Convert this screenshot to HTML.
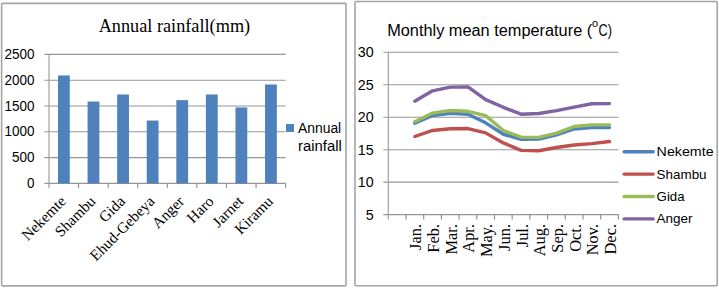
<!DOCTYPE html><html><head><meta charset="utf-8"><style>html,body{margin:0;padding:0;background:#fff;}body{width:719px;height:288px;overflow:hidden;}svg{display:block;}.s{font-family:"Liberation Sans",sans-serif;}.r{font-family:"Liberation Serif",serif;}</style></head><body>
<svg width="719" height="288" viewBox="0 0 719 288">
<rect x="1.6" y="3.4" width="344.4" height="282.5" fill="#fff" stroke="#a5a5a5" stroke-width="1.6" rx="1.2"/>
<text class="r" x="174.4" y="31.8" font-size="18.25" text-anchor="middle" fill="#000">Annual rainfall(mm)</text>
<line x1="44.4" y1="183.4" x2="285.64" y2="183.4" stroke="#969696" stroke-width="1.1"/>
<text class="s" x="34.4" y="188" font-size="14.4" text-anchor="end" textLength="7.5" lengthAdjust="spacingAndGlyphs" fill="#000">0</text>
<line x1="44.4" y1="157.6" x2="285.64" y2="157.6" stroke="#969696" stroke-width="1.1"/>
<text class="s" x="34.4" y="162.2" font-size="14.4" text-anchor="end" textLength="22.5" lengthAdjust="spacingAndGlyphs" fill="#000">500</text>
<line x1="44.4" y1="131.8" x2="285.64" y2="131.8" stroke="#969696" stroke-width="1.1"/>
<text class="s" x="34.4" y="136.4" font-size="14.4" text-anchor="end" textLength="30" lengthAdjust="spacingAndGlyphs" fill="#000">1000</text>
<line x1="44.4" y1="106" x2="285.64" y2="106" stroke="#969696" stroke-width="1.1"/>
<text class="s" x="34.4" y="110.6" font-size="14.4" text-anchor="end" textLength="30" lengthAdjust="spacingAndGlyphs" fill="#000">1500</text>
<line x1="44.4" y1="80.2" x2="285.64" y2="80.2" stroke="#969696" stroke-width="1.1"/>
<text class="s" x="34.4" y="84.8" font-size="14.4" text-anchor="end" textLength="30" lengthAdjust="spacingAndGlyphs" fill="#000">2000</text>
<line x1="44.4" y1="54.4" x2="285.64" y2="54.4" stroke="#969696" stroke-width="1.1"/>
<text class="s" x="34.4" y="59" font-size="14.4" text-anchor="end" textLength="30" lengthAdjust="spacingAndGlyphs" fill="#000">2500</text>
<line x1="49" y1="54.4" x2="49" y2="187.9" stroke="#a0a0a0" stroke-width="1.2"/>
<line x1="78.58" y1="183.4" x2="78.58" y2="187.9" stroke="#8c8c8c" stroke-width="1.1"/>
<line x1="108.16" y1="183.4" x2="108.16" y2="187.9" stroke="#8c8c8c" stroke-width="1.1"/>
<line x1="137.74" y1="183.4" x2="137.74" y2="187.9" stroke="#8c8c8c" stroke-width="1.1"/>
<line x1="167.32" y1="183.4" x2="167.32" y2="187.9" stroke="#8c8c8c" stroke-width="1.1"/>
<line x1="196.9" y1="183.4" x2="196.9" y2="187.9" stroke="#8c8c8c" stroke-width="1.1"/>
<line x1="226.48" y1="183.4" x2="226.48" y2="187.9" stroke="#8c8c8c" stroke-width="1.1"/>
<line x1="256.06" y1="183.4" x2="256.06" y2="187.9" stroke="#8c8c8c" stroke-width="1.1"/>
<line x1="285.64" y1="183.4" x2="285.64" y2="187.9" stroke="#8c8c8c" stroke-width="1.1"/>
<rect x="58" y="75.45" width="11.8" height="107.95" fill="#4f81bd"/>
<rect x="87.58" y="101.51" width="11.8" height="81.89" fill="#4f81bd"/>
<rect x="117.16" y="94.49" width="11.8" height="88.91" fill="#4f81bd"/>
<rect x="146.74" y="120.55" width="11.8" height="62.85" fill="#4f81bd"/>
<rect x="176.32" y="100.12" width="11.8" height="83.28" fill="#4f81bd"/>
<rect x="205.9" y="94.49" width="11.8" height="88.91" fill="#4f81bd"/>
<rect x="235.48" y="107.44" width="11.8" height="75.96" fill="#4f81bd"/>
<rect x="265.06" y="84.48" width="11.8" height="98.92" fill="#4f81bd"/>
<text class="r" transform="translate(66.79,202.3) rotate(-45)" font-size="15.3" text-anchor="end" fill="#000">Nekemte</text>
<text class="r" transform="translate(96.37,202.3) rotate(-45)" font-size="15.3" text-anchor="end" fill="#000">Shambu</text>
<text class="r" transform="translate(125.95,202.3) rotate(-45)" font-size="15.3" text-anchor="end" fill="#000">Gida</text>
<text class="r" transform="translate(155.53,202.3) rotate(-45)" font-size="15.3" text-anchor="end" fill="#000">Ehud-Gebeya</text>
<text class="r" transform="translate(185.11,202.3) rotate(-45)" font-size="15.3" text-anchor="end" fill="#000">Anger</text>
<text class="r" transform="translate(214.69,202.3) rotate(-45)" font-size="15.3" text-anchor="end" fill="#000">Haro</text>
<text class="r" transform="translate(244.27,202.3) rotate(-45)" font-size="15.3" text-anchor="end" fill="#000">Jarnet</text>
<text class="r" transform="translate(273.85,202.3) rotate(-45)" font-size="15.3" text-anchor="end" fill="#000">Kiramu</text>
<rect x="286" y="124" width="8" height="8" fill="#4f81bd"/>
<text class="s" x="298" y="132.6" font-size="14" textLength="43.2" lengthAdjust="spacingAndGlyphs" fill="#000">Annual</text>
<text class="s" x="298" y="150.8" font-size="14" textLength="43.8" lengthAdjust="spacingAndGlyphs" fill="#000">rainfall</text>
<rect x="355" y="1.5" width="362.2" height="284.2" fill="#fff" stroke="#a5a5a5" stroke-width="1.6" rx="1.2"/>
<text class="s" x="387.2" y="35.9" font-size="16.0" textLength="205" lengthAdjust="spacingAndGlyphs" fill="#000">Monthly mean temperature (</text>
<text class="s" x="591.9" y="27.4" font-size="11" fill="#000">o</text>
<text class="s" x="598.6" y="35.9" font-size="16.0" textLength="13.4" lengthAdjust="spacingAndGlyphs" fill="#000">C)</text>
<line x1="383.3" y1="52.3" x2="618.4" y2="52.3" stroke="#969696" stroke-width="1.1"/>
<text class="s" x="373.6" y="57.2" font-size="15.0" text-anchor="end" textLength="15.9" lengthAdjust="spacingAndGlyphs" fill="#000">30</text>
<line x1="383.3" y1="84.76" x2="618.4" y2="84.76" stroke="#969696" stroke-width="1.1"/>
<text class="s" x="373.6" y="89.66" font-size="15.0" text-anchor="end" textLength="15.9" lengthAdjust="spacingAndGlyphs" fill="#000">25</text>
<line x1="383.3" y1="117.22" x2="618.4" y2="117.22" stroke="#969696" stroke-width="1.1"/>
<text class="s" x="373.6" y="122.12" font-size="15.0" text-anchor="end" textLength="15.9" lengthAdjust="spacingAndGlyphs" fill="#000">20</text>
<line x1="383.3" y1="149.68" x2="618.4" y2="149.68" stroke="#969696" stroke-width="1.1"/>
<text class="s" x="373.6" y="154.58" font-size="15.0" text-anchor="end" textLength="15.9" lengthAdjust="spacingAndGlyphs" fill="#000">15</text>
<line x1="383.3" y1="182.14" x2="618.4" y2="182.14" stroke="#969696" stroke-width="1.1"/>
<text class="s" x="373.6" y="187.04" font-size="15.0" text-anchor="end" textLength="15.9" lengthAdjust="spacingAndGlyphs" fill="#000">10</text>
<line x1="383.3" y1="214.6" x2="618.4" y2="214.6" stroke="#969696" stroke-width="1.1"/>
<text class="s" x="373.6" y="219.5" font-size="15.0" text-anchor="end" textLength="7.95" lengthAdjust="spacingAndGlyphs" fill="#000">5</text>
<line x1="388.3" y1="52.3" x2="388.3" y2="219.6" stroke="#a0a0a0" stroke-width="1.2"/>
<line x1="406" y1="214.6" x2="406" y2="219.6" stroke="#8c8c8c" stroke-width="1.1"/>
<line x1="423.7" y1="214.6" x2="423.7" y2="219.6" stroke="#8c8c8c" stroke-width="1.1"/>
<line x1="441.4" y1="214.6" x2="441.4" y2="219.6" stroke="#8c8c8c" stroke-width="1.1"/>
<line x1="459.1" y1="214.6" x2="459.1" y2="219.6" stroke="#8c8c8c" stroke-width="1.1"/>
<line x1="476.8" y1="214.6" x2="476.8" y2="219.6" stroke="#8c8c8c" stroke-width="1.1"/>
<line x1="494.5" y1="214.6" x2="494.5" y2="219.6" stroke="#8c8c8c" stroke-width="1.1"/>
<line x1="512.2" y1="214.6" x2="512.2" y2="219.6" stroke="#8c8c8c" stroke-width="1.1"/>
<line x1="529.9" y1="214.6" x2="529.9" y2="219.6" stroke="#8c8c8c" stroke-width="1.1"/>
<line x1="547.6" y1="214.6" x2="547.6" y2="219.6" stroke="#8c8c8c" stroke-width="1.1"/>
<line x1="565.3" y1="214.6" x2="565.3" y2="219.6" stroke="#8c8c8c" stroke-width="1.1"/>
<line x1="583" y1="214.6" x2="583" y2="219.6" stroke="#8c8c8c" stroke-width="1.1"/>
<line x1="600.7" y1="214.6" x2="600.7" y2="219.6" stroke="#8c8c8c" stroke-width="1.1"/>
<line x1="618.4" y1="214.6" x2="618.4" y2="219.6" stroke="#8c8c8c" stroke-width="1.1"/>
<text class="r" transform="translate(421.35,224) rotate(-90)" font-size="16.4" text-anchor="end" fill="#000">Jan.</text>
<text class="r" transform="translate(439.05,224) rotate(-90)" font-size="16.4" text-anchor="end" fill="#000">Feb.</text>
<text class="r" transform="translate(456.75,224) rotate(-90)" font-size="16.4" text-anchor="end" fill="#000">Mar.</text>
<text class="r" transform="translate(474.45,224) rotate(-90)" font-size="16.4" text-anchor="end" fill="#000">Apr.</text>
<text class="r" transform="translate(492.15,224) rotate(-90)" font-size="16.4" text-anchor="end" fill="#000">May.</text>
<text class="r" transform="translate(509.85,224) rotate(-90)" font-size="16.4" text-anchor="end" fill="#000">Jun.</text>
<text class="r" transform="translate(527.55,224) rotate(-90)" font-size="16.4" text-anchor="end" fill="#000">Jul.</text>
<text class="r" transform="translate(545.25,224) rotate(-90)" font-size="16.4" text-anchor="end" fill="#000">Aug.</text>
<text class="r" transform="translate(562.95,224) rotate(-90)" font-size="16.4" text-anchor="end" fill="#000">Sep.</text>
<text class="r" transform="translate(580.65,224) rotate(-90)" font-size="16.4" text-anchor="end" fill="#000">Oct.</text>
<text class="r" transform="translate(598.35,224) rotate(-90)" font-size="16.4" text-anchor="end" fill="#000">Nov.</text>
<text class="r" transform="translate(616.05,224) rotate(-90)" font-size="16.4" text-anchor="end" fill="#000">Dec.</text>
<polyline points="414.85,123.27 432.55,115.48 450.25,113.21 467.95,114.18 485.65,122.81 503.35,134.24 521.05,139.24 538.75,139.04 556.45,134.82 574.15,128.98 591.85,127.62 609.55,127.62" fill="none" stroke="#4f81bd" stroke-width="3.4" stroke-linejoin="round" stroke-linecap="round"/>
<polyline points="414.85,136.51 432.55,130.47 450.25,128.72 467.95,128.53 485.65,132.88 503.35,142.94 521.05,150.4 538.75,150.73 556.45,147.48 574.15,145.02 591.85,143.59 609.55,141.51" fill="none" stroke="#c0504d" stroke-width="3.4" stroke-linejoin="round" stroke-linecap="round"/>
<polyline points="414.85,121.71 432.55,113.08 450.25,110.48 467.95,111.32 485.65,115.61 503.35,130.47 521.05,137.1 538.75,137.36 556.45,133.2 574.15,126.51 591.85,124.83 609.55,124.83" fill="none" stroke="#9bbb59" stroke-width="3.4" stroke-linejoin="round" stroke-linecap="round"/>
<polyline points="414.85,101.2 432.55,90.81 450.25,87.17 467.95,86.91 485.65,99.57 503.35,107.3 521.05,114.18 538.75,113.53 556.45,110.67 574.15,107.1 591.85,103.73 609.55,103.6" fill="none" stroke="#8064a2" stroke-width="3.4" stroke-linejoin="round" stroke-linecap="round"/>
<line x1="624.1" y1="151.7" x2="653.2" y2="151.7" stroke="#4f81bd" stroke-width="3.4" stroke-linecap="round"/>
<text class="s" x="656.6" y="156.1" font-size="13.2" textLength="57" lengthAdjust="spacingAndGlyphs" fill="#000">Nekemte</text>
<line x1="624.1" y1="174.1" x2="653.2" y2="174.1" stroke="#c0504d" stroke-width="3.4" stroke-linecap="round"/>
<text class="s" x="656.6" y="178.5" font-size="13.2" textLength="50" lengthAdjust="spacingAndGlyphs" fill="#000">Shambu</text>
<line x1="624.1" y1="196.5" x2="653.2" y2="196.5" stroke="#9bbb59" stroke-width="3.4" stroke-linecap="round"/>
<text class="s" x="656.6" y="200.9" font-size="13.2" textLength="28" lengthAdjust="spacingAndGlyphs" fill="#000">Gida</text>
<line x1="624.1" y1="218.9" x2="653.2" y2="218.9" stroke="#8064a2" stroke-width="3.4" stroke-linecap="round"/>
<text class="s" x="656.6" y="223.3" font-size="13.2" textLength="36" lengthAdjust="spacingAndGlyphs" fill="#000">Anger</text>
</svg></body></html>
